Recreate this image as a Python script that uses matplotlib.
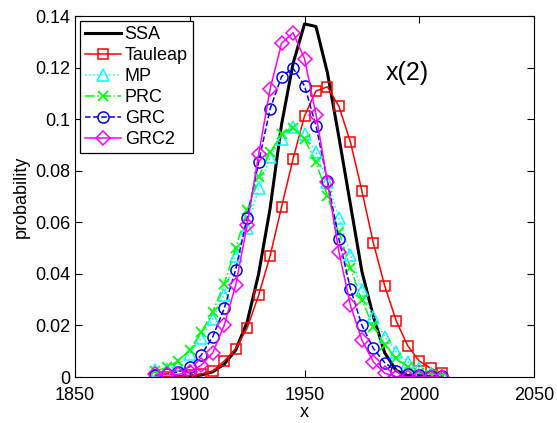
# Probability distributions of x(2) for the different simulation methods
import matplotlib.pyplot as plt

plt.rcParams['font.family'] = ['Liberation Sans', 'DejaVu Sans']

# Data
x = [1885, 1890, 1895, 1900, 1905, 1910, 1915, 1920, 1925, 1930, 1935, 1940, 1945,
     1950, 1955, 1960, 1965, 1970, 1975, 1980, 1985, 1990, 1995, 2000, 2005, 2010]

ssa = [0, 0, 0.0001, 0.0003, 0.0008, 0.002, 0.005, 0.0104, 0.0213, 0.040, 0.0654, 0.098, 0.1216,
       0.137, 0.136, 0.118, 0.093, 0.067, 0.041, 0.0235, 0.0093, 0.0025, 0.0006, 0.0001, 0, 0]
tauleap = [0, 0.0001, 0.0003, 0.0006, 0.0012, 0.0023, 0.0062, 0.011, 0.019, 0.0317, 0.047, 0.066, 0.0846,
           0.1013, 0.111, 0.1126, 0.105, 0.0912, 0.0722, 0.052, 0.0352, 0.0217, 0.0121, 0.0062, 0.0034, 0.0014]
mp = [0.0027, 0.003, 0.0045, 0.009, 0.015, 0.0225, 0.032, 0.047, 0.058, 0.0733, 0.0852, 0.0925, 0.0972,
      0.0943, 0.0872, 0.0756, 0.0617, 0.0475, 0.0339, 0.0233, 0.0156, 0.0098, 0.0059, 0.0034, 0.0017, 0.0008]
prc = [0.0023, 0.0037, 0.0063, 0.0105, 0.0174, 0.0252, 0.0362, 0.05, 0.0648, 0.0775, 0.0872, 0.0943, 0.0968,
       0.0923, 0.0833, 0.0704, 0.0562, 0.0424, 0.0298, 0.0195, 0.0124, 0.0072, 0.004, 0.0017, 0.0008, 0.0004]
grc = [0.0008, 0.0012, 0.002, 0.004, 0.0085, 0.0156, 0.0266, 0.0417, 0.0618, 0.0833, 0.104, 0.1166, 0.1198,
       0.113, 0.0975, 0.076, 0.0535, 0.0343, 0.0201, 0.0111, 0.0055, 0.0024, 0.0012, 0.0008, 0.0004, 0.0003]
grc2 = [0.001, 0.0012, 0.001, 0.002, 0.0046, 0.0094, 0.0201, 0.0356, 0.059, 0.0864, 0.1117, 0.1295, 0.1336,
        0.1235, 0.1018, 0.0756, 0.0485, 0.0279, 0.0143, 0.0059, 0.0014, 0.0002, 0.0001, 0, 0, 0]

xticks = [1850, 1900, 1950, 2000, 2050]
yticks = [0, 0.02, 0.04, 0.06, 0.08, 0.1, 0.12, 0.14]
ytick_labels = ['0', '0.02', '0.04', '0.06', '0.08', '0.1', '0.12', '0.14']

fig = plt.figure(figsize=(5.57, 4.23), dpi=100)
ax = fig.add_axes([0.1347, 0.1087, 0.824, 0.853])

ax.plot(x, ssa, color='k', linewidth=2.2, label='SSA')
ax.plot(x, tauleap, color=(1, 0, 0), linestyle='-', marker='s', markersize=7,
        markerfacecolor='none', markeredgewidth=1.1, linewidth=1.1, label='Tauleap')
ax.plot(x, mp, color=(0, 1, 1), linestyle=':', marker='^', markersize=8.5,
        markerfacecolor='none', markeredgewidth=1.1, linewidth=1.1, label='MP')
ax.plot(x, prc, color=(0, 1, 0), linestyle='-.', marker='x', markersize=7,
        markeredgewidth=1.3, linewidth=1.1, label='PRC')
ax.plot(x, grc, color=(0, 0, 1), linestyle='--', marker='o', markersize=8,
        markerfacecolor='none', markeredgewidth=1.1, linewidth=1.1, label='GRC')
ax.plot(x, grc2, color=(1, 0, 1), linestyle='-', marker='D', markersize=7.5,
        markerfacecolor='none', markeredgewidth=1.1, linewidth=1.1, label='GRC2')

ax.text(1995, 0.118, 'x(2)', fontsize=18, ha='center', va='center')

ax.set_xlim(1850, 2050)
ax.set_ylim(0, 0.14)
ax.set_xticks(xticks)
ax.set_yticks(yticks)
ax.set_yticklabels(ytick_labels)
ax.tick_params(direction='in', top=True, right=True, labelsize=13, length=5)
ax.tick_params(axis='x', pad=7)
ax.set_xlabel('x', fontsize=13, labelpad=0)
ax.set_ylabel('probability', fontsize=13, labelpad=4)

leg = ax.legend(loc='upper left', fontsize=13, handlelength=2.0, borderaxespad=0.25,
                fancybox=False, framealpha=1, labelspacing=0.22, borderpad=0.3,
                handletextpad=0.2)
leg.get_frame().set_edgecolor('k')
leg.get_frame().set_linewidth(0.9)

plt.savefig('out.png', dpi=100)
